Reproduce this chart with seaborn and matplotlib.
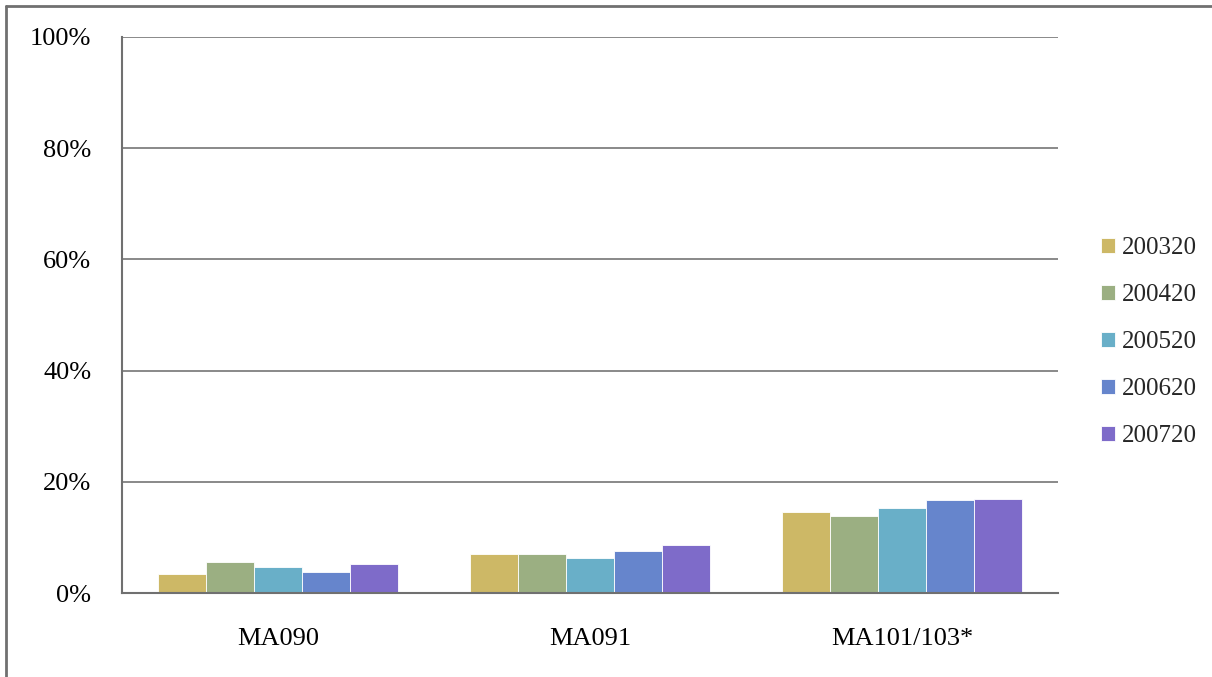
import pandas as pd
import matplotlib.pyplot as plt
import matplotlib.ticker as mtick
from matplotlib.lines import Line2D
import seaborn as sns

# Daten (in %)
categories = ['MA090', 'MA091', 'MA101/103*']
series = ['200320', '200420', '200520', '200620', '200720']
values = {
    '200320': [3.4, 7.0, 14.6],
    '200420': [5.6, 7.1, 13.8],
    '200520': [4.6, 6.3, 15.3],
    '200620': [3.7, 7.6, 16.8],
    '200720': [5.3, 8.6, 16.9],
}
colors = ['#CDB866', '#9BAF82', '#69AFC8', '#6685CC', '#7E6BC9']

rows = []
for s in series:
    for c, v in zip(categories, values[s]):
        rows.append({'Kategorie': c, 'Serie': s, 'Wert': v / 100})
df = pd.DataFrame(rows)

sns.set_theme(style="white")
plt.rcParams['font.family'] = ['Liberation Serif', 'DejaVu Serif']

fig = plt.figure(figsize=(12.12, 6.77), dpi=100)
ax = fig.add_axes([122 / 1212, 1 - 593 / 677, (1058 - 122) / 1212, (593 - 37) / 677])

sns.barplot(data=df, x='Kategorie', y='Wert', hue='Serie', order=categories,
            hue_order=series, palette=colors, saturation=1, width=0.77, ax=ax,
            edgecolor='white', linewidth=0.6, legend=True)

ax.set_ylim(0, 1)
ax.set_xlim(-0.5, 2.5)
ax.yaxis.set_major_locator(mtick.MultipleLocator(0.2))
ax.yaxis.set_major_formatter(mtick.PercentFormatter(1.0, decimals=0))
ax.grid(axis='y', color='#808080', linewidth=1.3)
ax.set_axisbelow(True)
for side in ['top', 'right']:
    ax.spines[side].set_visible(False)
for side in ['left', 'bottom']:
    ax.spines[side].set_color('#707070')
    ax.spines[side].set_linewidth(1.5)
ax.tick_params(axis='both', length=0, labelsize=19, colors='black')
ax.tick_params(axis='y', pad=22)
ax.tick_params(axis='x', pad=25)
ax.set_xlabel('')
ax.set_ylabel('')

leg = ax.legend(loc='center left', bbox_to_anchor=(1.035, 0.451), frameon=False,
                fontsize=18, handlelength=0.55, handleheight=0.55,
                handletextpad=0.3, labelspacing=1.0, borderaxespad=0)

# Rahmen (links und oben)
fig.add_artist(Line2D([6 / 1212, 6 / 1212], [0, 1 - 6 / 677], color='#707070', linewidth=2,
                      transform=fig.transFigure))
fig.add_artist(Line2D([6 / 1212, 1], [1 - 6 / 677, 1 - 6 / 677], color='#707070', linewidth=2,
                      transform=fig.transFigure))

fig.savefig('out.png', dpi=100)
